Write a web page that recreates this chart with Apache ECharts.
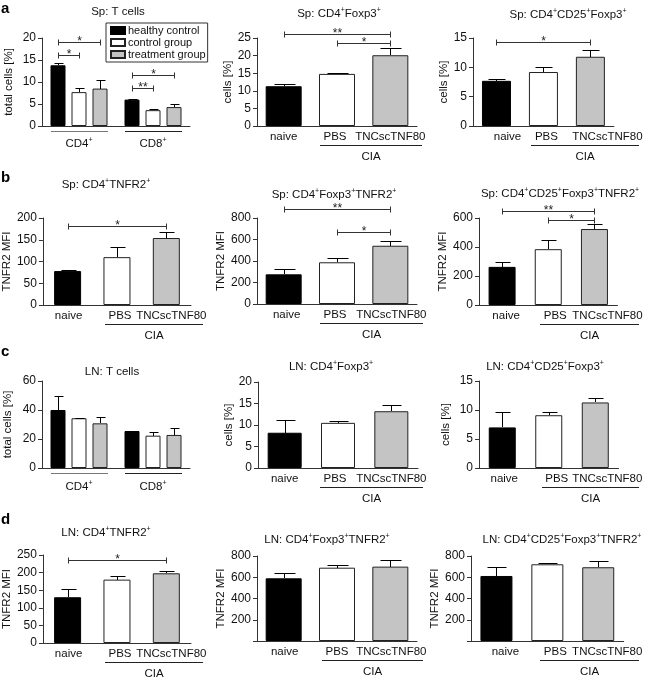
<!DOCTYPE html>
<html>
<head>
<meta charset="utf-8">
<script src="https://cdn.jsdelivr.net/npm/echarts@6/dist/echarts.min.js"></script>
<style>
  html, body { margin: 0; padding: 0; background: #fff; }
  #chart { width: 645px; height: 678px; }
</style>
</head>
<body>
<div id="chart"></div>
<script>
const groups = ['naive', 'PBS', 'TNCscTNF80']
const cellTypes = ['CD4', 'CD8']
const treatNames = ['healthy control', 'control group', 'treatment group']

// a - spleen. grouped: one row per treatment -> [CD4, CD8]
const spTMean = [[13.8, 6.0], [7.7, 3.6], [8.5, 4.3]]
const spTSem = [[0.6, 0.1], [1.0, 0.35], [2.0, 0.6]]
const spTSig = [[0, 0, 2, 19.1, '*'], [0, 0, 1, 16.1, '*'], [1, 0, 2, 11.6, '*'], [1, 0, 1, 8.6, '**']]
const spFoxp3Mean = [11.3, 14.8, 20.1]
const spFoxp3Sem = [0.5, 0.2, 2.0]
const spFoxp3Sig = [[0, 2, 26.1, '**'], [1, 2, 23.6, '*']]
const spCd25Mean = [7.7, 9.2, 11.8]
const spCd25Sem = [0.3, 0.9, 1.2]
const spCd25Sig = [[0, 2, 14.3, '*']]

// b - spleen TNFR2
const spTnfr2Mean = [78, 110, 154]
const spTnfr2Sem = [3, 24, 14]
const spTnfr2Sig = [[0, 2, 182, '*']]
const spFoxTnfr2Mean = [276, 388, 542]
const spFoxTnfr2Sem = [47, 43, 44]
const spFoxTnfr2Sig = [[0, 2, 884, '**'], [1, 2, 670, '*']]
const spCd25Tnfr2Mean = [263, 385, 524]
const spCd25Tnfr2Sem = [35, 62, 33]
const spCd25Tnfr2Sig = [[0, 2, 648, '**'], [1, 2, 586, '*']]

// c - lymph node
const lnTMean = [[40, 25.5], [34.3, 22.3], [30.8, 22.8]]
const lnTSem = [[10, 0.3], [0.3, 2.7], [4.2, 4.6]]
const lnFoxp3Mean = [8.2, 10.5, 13.2]
const lnFoxp3Sem = [2.9, 0.5, 1.4]
const lnCd25Mean = [7.0, 9.1, 11.3]
const lnCd25Sem = [2.7, 0.6, 0.7]

// d - lymph node TNFR2
const lnTnfr2Mean = [130, 180, 198]
const lnTnfr2Sem = [22, 9, 6]
const lnTnfr2Sig = [[0, 2, 236, '*']]
const lnFoxTnfr2Mean = [590, 690, 700]
const lnFoxTnfr2Sem = [54, 25, 62]
const lnCd25Tnfr2Mean = [612, 722, 694]
const lnCd25Tnfr2Sem = [88, 9, 62]

const FONT = 'Liberation Sans, Arial, sans-serif'
const AX = '#333'
const sup = { fontSize: 7, fontFamily: FONT, padding: [0, 0, 6, 0] }
const treatStyles = [
  { color: '#000', borderColor: '#000', borderWidth: 1 },
  { color: '#fff', borderColor: '#222', borderWidth: 1 },
  { color: '#c4c4c4', borderColor: '#222', borderWidth: 1 }
]

// grid: [left, top, width, height]; shift = label nudge to the right (px)
const panels = [
  { grid: [42, 38, 148, 88], max: 20, step: 5, name: 'total cells [%]', gap: 27, title: 'Sp: T cells', tx: 118, ty: 6, grouped: true, mean: spTMean, sem: spTSem, sig: spTSig, bw: 15, lm: 11 },
  { grid: [257, 38, 160, 88], max: 25, step: 5, name: 'cells [%]', gap: 22, title: 'Sp: CD4{s|+}Foxp3{s|+}', tx: 339, ty: 7, mean: spFoxp3Mean, sem: spFoxp3Sem, sig: spFoxp3Sig, bw: 36, shift: [0, -2, 0] },
  { grid: [473, 38, 144, 88], max: 15, step: 5, name: 'cells [%]', gap: 21, title: 'Sp: CD4{s|+}CD25{s|+}Foxp3{s|+}', tx: 568, ty: 8, mean: spCd25Mean, sem: spCd25Sem, sig: spCd25Sig, bw: 29, shift: [11, 3, 17] },
  { grid: [41, 218, 150, 87], max: 200, step: 50, name: 'TNFR2 MFI', gap: 24, title: 'Sp: CD4{s|+}TNFR2{s|+}', tx: 106, ty: 178, mean: spTnfr2Mean, sem: spTnfr2Sem, sig: spTnfr2Sig, bw: 27, shift: [1, 3, 5] },
  { grid: [257, 218, 160, 86], max: 800, step: 200, name: 'TNFR2 MFI', gap: 26, title: 'Sp: CD4{s|+}Foxp3{s|+}TNFR2{s|+}', tx: 334, ty: 188, mean: spFoxTnfr2Mean, sem: spFoxTnfr2Sem, sig: spFoxTnfr2Sig, bw: 36, shift: [3, -2, 1] },
  { grid: [479, 218, 142, 87], max: 600, step: 200, name: 'TNFR2 MFI', gap: 28, title: 'Sp: CD4{s|+}CD25{s|+}Foxp3{s|+}TNFR2{s|+}', tx: 560, ty: 187, mean: spCd25Tnfr2Mean, sem: spCd25Tnfr2Sem, sig: spCd25Tnfr2Sig, bw: 27, shift: [4, 7, 13] },
  { grid: [42, 381, 148, 87], max: 60, step: 20, name: 'total cells [%]', gap: 28, title: 'LN: T cells', tx: 112, ty: 366, grouped: true, mean: lnTMean, sem: lnTSem, sig: [], bw: 15, lm: 12 },
  { grid: [258, 382, 160, 86], max: 20, step: 5, name: 'cells [%]', gap: 21, title: 'LN: CD4{s|+}Foxp3{s|+}', tx: 331, ty: 360, mean: lnFoxp3Mean, sem: lnFoxp3Sem, sig: [], bw: 34, shift: [0, -3, 0] },
  { grid: [479, 381, 142, 87], max: 15, step: 5, name: 'cells [%]', gap: 27, title: 'LN: CD4{s|+}CD25{s|+}Foxp3{s|+}', tx: 545, ty: 360, mean: lnCd25Mean, sem: lnCd25Sem, sig: [], bw: 27, shift: [2, 8, 12] },
  { grid: [41, 555, 150, 88], max: 250, step: 50, name: 'TNFR2 MFI', gap: 26, title: 'LN: CD4{s|+}TNFR2{s|+}', tx: 106, ty: 526, mean: lnTnfr2Mean, sem: lnTnfr2Sem, sig: lnTnfr2Sig, bw: 27, shift: [1, 3, 5] },
  { grid: [257, 556, 160, 85], max: 800, step: 200, name: 'TNFR2 MFI', gap: 27, title: 'LN: CD4{s|+}Foxp3{s|+}TNFR2{s|+}', tx: 327, ty: 533, mean: lnFoxTnfr2Mean, sem: lnFoxTnfr2Sem, sig: [], bw: 36, hideZero: true, shift: [1, 0, 1] },
  { grid: [471, 556, 155, 85], max: 800, step: 200, name: 'TNFR2 MFI', gap: 21, title: 'LN: CD4{s|+}CD25{s|+}Foxp3{s|+}TNFR2{s|+}', tx: 562, ty: 533, mean: lnCd25Tnfr2Mean, sem: lnCd25Tnfr2Sem, sig: [], bw: 32, hideZero: true, shift: [9, 8, 9] }
]

const px = v => Math.round(v) + 0.5
const lineEl = (x1, y1, x2, y2, color) => ({ type: 'line', shape: { x1, y1, x2, y2 }, style: { stroke: color || '#000', lineWidth: 1 } })

function errRender(p) {
  return function (params, api) {
    const off = p.grouped ? (api.value(3) - 1) * p.bw * 1.4 : 0
    const a = api.coord([api.value(0), api.value(1)])
    const b = api.coord([api.value(0), api.value(2)])
    const x = px(a[0] + off), y0 = Math.round(a[1]), y1 = px(b[1])
    const h = Math.max(3, Math.round(p.bw * 0.27))
    return { type: 'group', children: [lineEl(x, y0, x, y1), lineEl(x - h, y1, x + h + 1, y1)] }
  }
}

function sigRender(p) {
  return function (params, api) {
    const s = p.sig[params.dataIndex]
    let xa, xb, y, label
    if (p.grouped) {
      const c = api.coord([s[0], s[3]])
      const off = p.bw * 1.4
      xa = c[0] + (s[1] - 1) * off; xb = c[0] + (s[2] - 1) * off; y = c[1]; label = s[4]
    } else {
      xa = api.coord([s[0], s[2]])[0]; xb = api.coord([s[1], s[2]])[0]; y = api.coord([s[0], s[2]])[1]; label = s[3]
    }
    xa = px(xa); xb = px(xb); y = px(y)
    return { type: 'group', children: [
      lineEl(xa, y, xb, y, '#333'),
      lineEl(xa, y - 3, xa, y + 3, '#333'),
      lineEl(xb, y - 3, xb, y + 3, '#333'),
      { type: 'text', style: { text: label, x: (xa + xb) / 2, y: y - 1, align: 'center', verticalAlign: 'middle', fontSize: 12, fontFamily: FONT, fill: '#222' } }
    ] }
  }
}

function decoRender(p) {
  return function (params, api) {
    if (p.grouped) {
      const c = api.coord([api.value(0), 0])
      const half = p.bw * 1.9
      const y = px(c[1] + 5)
      return lineEl(Math.round(c[0] - half), y, Math.round(c[0] + half), y, params.dataIndex === 0 ? '#777' : '#222')
    }
    const c1 = api.coord([1, 0]), c2 = api.coord([2, 0])
    const l = Math.round(c1[0] + p.shift[1] - 15), r = Math.round(c2[0] + p.shift[2] + 32), y = px(c1[1] + 19)
    return { type: 'group', children: [
      lineEl(l, y, r, y, '#222'),
      { type: 'text', style: { text: 'CIA', x: (l + r) / 2, y: y + 11, align: 'center', verticalAlign: 'middle', fontSize: 11.5, fontFamily: FONT, fill: '#111' } }
    ] }
  }
}

const option = {
  animation: false,
  textStyle: { fontFamily: FONT },
  title: [],
  grid: [],
  xAxis: [],
  yAxis: [],
  series: [],
  legend: {
    data: treatNames, orient: 'vertical', left: 106, top: 23, icon: 'rect',
    itemWidth: 14, itemHeight: 7, itemGap: 1, padding: [2, 2, 2, 4],
    borderColor: '#333', borderWidth: 1, selectedMode: false,
    textStyle: { fontSize: 11, color: '#111', fontFamily: FONT, padding: [0, 0, 0, -2] }
  }
}

;[['a', 1], ['b', 170], ['c', 344], ['d', 512]].forEach(([t, y]) => {
  option.title.push({ text: t, left: 1, top: y, padding: 0, textStyle: { fontSize: 15, fontWeight: 'bold', color: '#000', fontFamily: FONT } })
})

panels.forEach((p, k) => {
  option.title.push({
    text: p.title, left: p.tx, top: p.ty, textAlign: 'center', padding: 0,
    textStyle: { fontSize: 11.5, fontWeight: 'normal', color: '#111', fontFamily: FONT, rich: { s: sup } }
  })
  option.grid.push({ left: p.grid[0], top: p.grid[1], width: p.grid[2], height: p.grid[3] })
  const cats = p.grouped
    ? cellTypes
    : groups.map((g, i) => (p.shift[i] > 0 ? { value: g, textStyle: { padding: [0, 0, 0, 2 * p.shift[i]] } }
      : p.shift[i] < 0 ? { value: g, textStyle: { padding: [0, -2 * p.shift[i], 0, 0] } } : g))
  option.xAxis.push({
    type: 'category', gridIndex: k, data: cats,
    axisLine: { lineStyle: { color: AX } }, axisTick: { show: false },
    axisLabel: {
      interval: 0, fontSize: 11.5, color: '#111', margin: p.lm || 5,
      formatter: p.grouped ? v => v + '{s|+}' : v => v,
      rich: { s: sup }
    }
  })
  option.yAxis.push({
    type: 'value', gridIndex: k, min: 0, max: p.max, interval: p.step,
    name: p.name, nameLocation: 'middle', nameGap: p.gap,
    nameTextStyle: { fontSize: 11.5, color: '#111' },
    axisLine: { show: true, lineStyle: { color: AX } },
    axisTick: { show: true, length: 4, lineStyle: { color: AX } },
    splitLine: { show: false },
    axisLabel: { fontSize: 12, color: '#111', margin: 6, formatter: v => (p.hideZero && v === 0 ? '' : v) }
  })

  let errData = []
  if (p.grouped) {
    treatNames.forEach((n, s) => {
      option.series.push({
        type: 'bar', name: n, xAxisIndex: k, yAxisIndex: k, barWidth: p.bw, barGap: '40%',
        itemStyle: treatStyles[s], data: p.mean[s]
      })
      p.mean[s].forEach((v, c) => errData.push([c, v, v + p.sem[s][c], s]))
    })
  } else {
    option.series.push({
      type: 'bar', name: 'panel' + k, xAxisIndex: k, yAxisIndex: k, barWidth: p.bw,
      data: p.mean.map((v, i) => ({ value: v, itemStyle: treatStyles[i] }))
    })
    errData = p.mean.map((v, i) => [i, v, v + p.sem[i], i])
  }
  option.series.push({
    type: 'custom', name: 'err' + k, xAxisIndex: k, yAxisIndex: k, z: 3, silent: true,
    renderItem: errRender(p), data: errData
  })
  if (p.sig.length) {
    option.series.push({
      type: 'custom', name: 'sig' + k, xAxisIndex: k, yAxisIndex: k, z: 3, silent: true,
      renderItem: sigRender(p), data: p.sig.map(s => (p.grouped ? [s[0], s[3]] : [s[0], s[2]]))
    })
  }
  option.series.push({
    type: 'custom', name: 'deco' + k, xAxisIndex: k, yAxisIndex: k, z: 3, silent: true,
    renderItem: decoRender(p), data: p.grouped ? [[0, 0], [1, 0]] : [[1, 0]]
  })
})

const chart = echarts.init(document.getElementById('chart'))
chart.setOption(option)
</script>
</body>
</html>
